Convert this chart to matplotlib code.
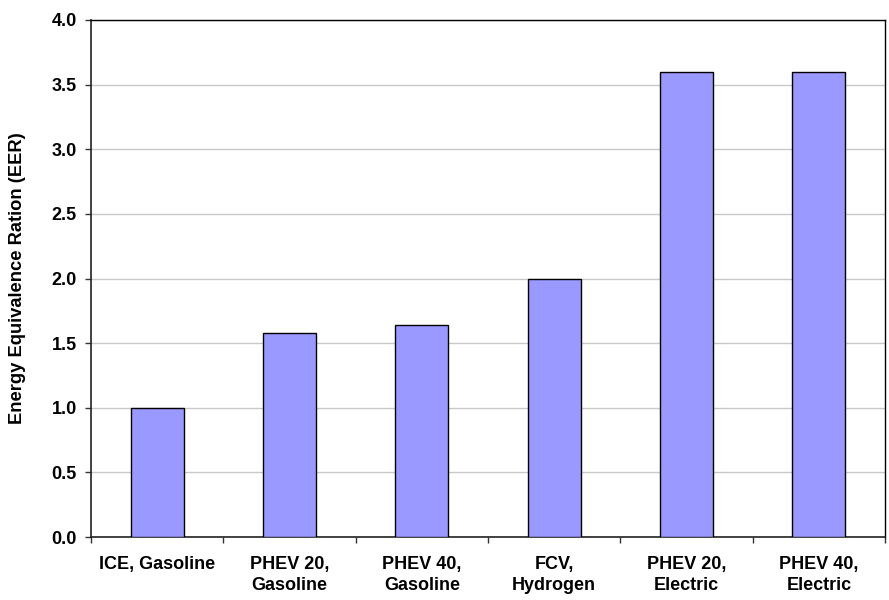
import matplotlib
matplotlib.use("Agg")
import matplotlib.pyplot as plt
import numpy as np

categories = ["ICE, Gasoline", "PHEV 20,\nGasoline", "PHEV 40,\nGasoline",
              "FCV,\nHydrogen", "PHEV 20,\nElectric", "PHEV 40,\nElectric"]
eer_values = [1.0, 1.58, 1.64, 2.0, 3.6, 3.6]
y_ticks = [0.0, 0.5, 1.0, 1.5, 2.0, 2.5, 3.0, 3.5, 4.0]
y_label = "Energy Equivalence Ration (EER)"

plt.rcParams['font.family'] = ['Liberation Sans', 'DejaVu Sans']
plt.rcParams['font.weight'] = 'bold'

fig = plt.figure(figsize=(8.89, 6.0), dpi=100)
ax = fig.add_axes([91/889, 1 - 537/600, (885-91)/889, (537-20)/600])

x = np.arange(len(categories))
ax.bar(x, eer_values, width=0.4, color='#9999FF', edgecolor='black', linewidth=1.0, zorder=3)

ax.set_xlim(-0.5, len(categories) - 0.5)
ax.set_ylim(0, 4.0)
ax.set_yticks(y_ticks)
ax.set_yticklabels([f"{v:.1f}" for v in y_ticks], fontsize=13, fontweight='bold')
ax.yaxis.grid(True, color='#C8C8C8', linewidth=1.0, zorder=0)
ax.set_axisbelow(True)

ax.set_xticks(x)
ax.set_xticklabels(categories, fontsize=13, fontweight='bold', linespacing=1.25)
ax.set_xticks(np.arange(-0.5, len(categories)), minor=True)
ax.tick_params(axis='x', which='major', length=0, pad=14)
ax.tick_params(axis='x', which='minor', length=4.3, width=1, color='#333333', direction='out')
ax.tick_params(axis='y', which='major', length=4.3, width=1, color='#333333', direction='out', pad=6)

for s in ['left', 'bottom']:
    ax.spines[s].set_color('#222222')
    ax.spines[s].set_linewidth(1.2)
for s in ['top', 'right']:
    ax.spines[s].set_color('black')
    ax.spines[s].set_linewidth(1.0)

ax.set_ylabel(y_label, fontsize=13.2, fontweight='bold')
ax.yaxis.set_label_coords(-(91 - 26) / (885 - 91), 0.5)

fig.savefig("out.png", dpi=100)
